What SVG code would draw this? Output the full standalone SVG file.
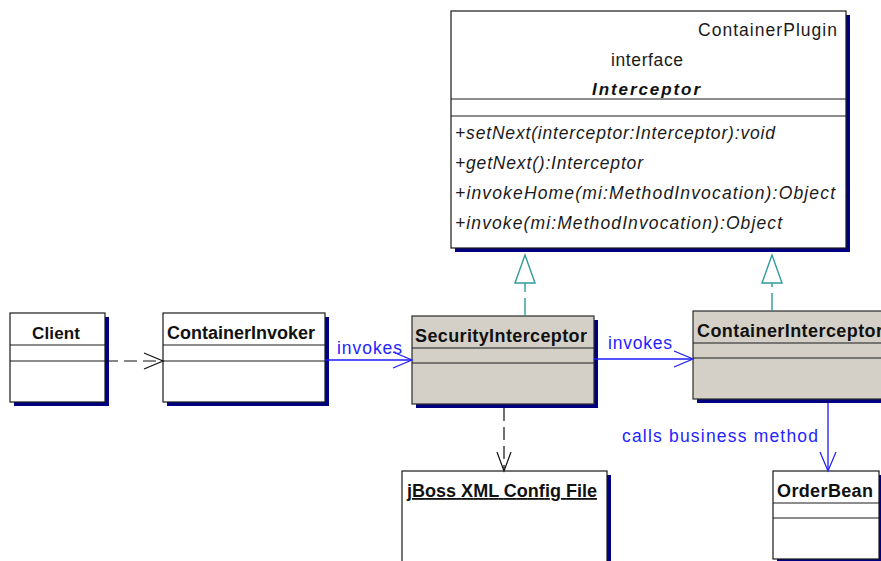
<svg xmlns="http://www.w3.org/2000/svg" width="881" height="561" viewBox="0 0 881 561">
<style>
.box{fill:#ffffff;stroke:#1a1a1a;stroke-width:1.2}
.gbox{fill:#d4d0c8;stroke:#2a2a2a;stroke-width:1.2}
.shadow{fill:#000080}
.sep{stroke:#1a1a1a;stroke-width:1.2}
.t{font-family:"Liberation Sans",Arial,sans-serif;font-size:17.5px;fill:#1a1a1a}
.b{font-family:"Liberation Sans",Arial,sans-serif;font-size:18px;font-weight:bold;fill:#111}
.i{font-style:italic}
.bl{font-family:"Liberation Sans",Arial,sans-serif;font-size:17.5px;fill:#2424ff}
.dep{stroke:#111;stroke-width:1.2;fill:none;stroke-dasharray:13 6}
.ass{stroke:#1a1aff;stroke-width:1.3;fill:none}
.real{stroke:#2f9a9a;stroke-width:1.4;fill:none}
.head{fill:none;stroke-width:1.2}
</style>
<g id="Interceptor">
<rect class="shadow" x="455" y="15" width="395" height="237"/>
<rect class="box" x="451" y="11" width="395" height="237"/>
<line class="sep" x1="451" y1="99" x2="846" y2="99"/>
<line class="sep" x1="451" y1="116" x2="846" y2="116"/>
<text class="t" x="698" y="36" textLength="139" lengthAdjust="spacing">ContainerPlugin</text>
<text class="t" x="611" y="66" textLength="72" lengthAdjust="spacing">interface</text>
<text class="b i" x="592" y="95" style="font-size:17px" textLength="108" lengthAdjust="spacing">Interceptor</text>
<text class="t i" x="455" y="139" textLength="320" lengthAdjust="spacing">+setNext(interceptor:Interceptor):void</text>
<text class="t i" x="455" y="169" textLength="188" lengthAdjust="spacing">+getNext():Interceptor</text>
<text class="t i" x="455" y="199" textLength="380" lengthAdjust="spacing">+invokeHome(mi:MethodInvocation):Object</text>
<text class="t i" x="455" y="229" textLength="327" lengthAdjust="spacing">+invoke(mi:MethodInvocation):Object</text>
</g>
<g id="Client">
<rect class="shadow" x="14" y="317" width="95" height="89"/>
<rect class="box" x="10" y="313" width="95" height="89"/>
<line class="sep" x1="10" y1="345" x2="105" y2="345"/>
<line class="sep" x1="10" y1="361" x2="105" y2="361"/>
<text class="b" x="32" y="339" style="font-size:17px" textLength="48" lengthAdjust="spacing">Client</text>
</g>
<g id="ContainerInvoker">
<rect class="shadow" x="167" y="317" width="162" height="89"/>
<rect class="box" x="163" y="313" width="162" height="89"/>
<line class="sep" x1="163" y1="345" x2="325" y2="345"/>
<line class="sep" x1="163" y1="361" x2="325" y2="361"/>
<text class="b" x="167" y="339" textLength="148" lengthAdjust="spacing">ContainerInvoker</text>
</g>
<g id="SecurityInterceptor">
<rect class="shadow" x="416" y="320" width="182" height="88"/>
<rect class="gbox" x="412" y="316" width="182" height="88"/>
<line class="sep" x1="412" y1="348" x2="594" y2="348"/>
<line class="sep" x1="412" y1="363" x2="594" y2="363"/>
<text class="b" x="415" y="342" textLength="172" lengthAdjust="spacing">SecurityInterceptor</text>
</g>
<g id="ContainerInterceptor">
<rect class="shadow" x="697" y="315" width="220" height="88"/>
<rect class="gbox" x="693" y="311" width="220" height="88"/>
<line class="sep" x1="693" y1="343" x2="913" y2="343"/>
<line class="sep" x1="693" y1="358" x2="913" y2="358"/>
<text class="b" x="697" y="337" textLength="186" lengthAdjust="spacing">ContainerInterceptor</text>
</g>
<g id="jBossXMLConfigFile">
<rect class="shadow" x="406" y="475" width="205" height="100"/>
<rect class="box" x="402" y="471" width="205" height="100"/>
<text class="b" x="407" y="497" textLength="190" lengthAdjust="spacing" text-decoration="underline">jBoss XML Config File</text>
</g>
<g id="OrderBean">
<rect class="shadow" x="777" y="475" width="106" height="88"/>
<rect class="box" x="773" y="471" width="106" height="88"/>
<line class="sep" x1="773" y1="503" x2="879" y2="503"/>
<line class="sep" x1="773" y1="518" x2="879" y2="518"/>
<text class="b" x="777" y="497" textLength="96" lengthAdjust="spacing">OrderBean</text>
</g>
<g id="connectors">
<path class="dep" d="M105,361 H162"/>
<path class="head" stroke="#111" d="M144,353 L163,361 L144,369"/>
<path class="ass" d="M325,360 H411"/>
<path class="head" stroke="#1a1aff" d="M393,352 L412,360 L393,368"/>
<text class="bl" x="337" y="354" textLength="65" lengthAdjust="spacing">invokes</text>
<path class="ass" d="M594,359 H692"/>
<path class="head" stroke="#1a1aff" d="M674,351 L693,359 L674,367"/>
<text class="bl" x="608" y="349" textLength="64" lengthAdjust="spacing">invokes</text>
<path class="dep" d="M504,408 V470" stroke-dasharray="16 6"/>
<path class="head" stroke="#111" d="M497,452 L504,471 L511,452"/>
<path class="ass" d="M828,403 V470"/>
<path class="head" stroke="#1a1aff" d="M820,452 L828,471 L836,452"/>
<text class="bl" x="622" y="442" textLength="196" lengthAdjust="spacing">calls business method</text>
<path class="real" d="M525,316 V283" stroke-dasharray="18 6"/>
<path class="real" d="M525,255 L535,283 L515,283 Z"/>
<path class="real" d="M772,311 V283" stroke-dasharray="18 6"/>
<path class="real" d="M772,255 L782,283 L762,283 Z"/>
</g>
</svg>
